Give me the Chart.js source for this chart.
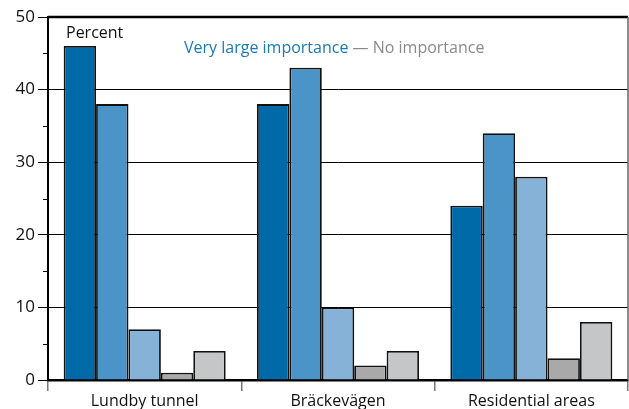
<!DOCTYPE html>
<html>
<head>
<meta charset="utf-8">
<script src="https://cdn.jsdelivr.net/npm/chart.js@4.4.1/dist/chart.umd.min.js"></script>
<style>
  html, body { margin: 0; padding: 0; background: #fff; }
  #wrap { width: 629px; height: 409px; }
</style>
</head>
<body>
<div id="wrap"><canvas id="chart" width="629" height="409"></canvas></div>
<script>
const categories = ["Lundby tunnel", "Bräckevägen", "Residential areas"];
const levelNames = ["Very large importance", "Large importance", "Some importance", "Little importance", "No importance"];
const veryLarge = [46, 38, 24];
const large = [38, 43, 34];
const some = [7, 10, 28];
const little = [1, 2, 3];
const none = [4, 4, 8];
const yTicks = [0, 10, 20, 30, 40, 50];

const colors = ["#006aa8", "#4a94c8", "#87b2d8", "#a9a9a9", "#c5c6c8"];
const FONT = "'Open Sans', 'DejaVu Sans', sans-serif";

const decor = {
  id: "decor",
  beforeDatasetsDraw(chart) {
    const { ctx, chartArea: a, scales } = chart;
    const y = scales.y;
    ctx.save();
    // minor ticks
    ctx.strokeStyle = "#000";
    ctx.lineWidth = 1;
    for (let v = 5; v < 50; v += 10) {
      const py = Math.round(y.getPixelForValue(v)) + 0.5;
      ctx.beginPath();
      ctx.moveTo(a.left - 5, py);
      ctx.lineTo(a.left, py);
      ctx.stroke();
    }
    // top border and right edge
    ctx.lineWidth = 2.5;
    ctx.beginPath();
    ctx.moveTo(a.left, y.getPixelForValue(50));
    ctx.lineTo(a.right, y.getPixelForValue(50));
    ctx.stroke();
    ctx.strokeStyle = "#666";
    ctx.lineWidth = 1.5;
    ctx.beginPath();
    ctx.moveTo(a.right, a.top);
    ctx.lineTo(a.right, a.bottom);
    ctx.stroke();
    ctx.restore();
  },
  afterDraw(chart) {
    const { ctx } = chart;
    ctx.save();
    ctx.textBaseline = "middle";
    ctx.font = "16px " + FONT;
    ctx.fillStyle = "#111";
    ctx.fillText("Percent", 66, 33);
    ctx.fillStyle = "#1a7ab8";
    ctx.fillText(levelNames[0], 184, 48);
    const w = ctx.measureText(levelNames[0] + " ").width;
    ctx.fillStyle = "#8a8a8a";
    ctx.fillText("— " + levelNames[4], 184 + w, 48);
    ctx.restore();
  }
};

const series = [veryLarge, large, some, little, none];

new Chart(document.getElementById("chart"), {
  type: "bar",
  data: {
    labels: categories,
    datasets: series.map((d, i) => ({
      label: levelNames[i],
      data: d,
      backgroundColor: colors[i],
      borderColor: "#111",
      borderWidth: 1.8,
      borderSkipped: "bottom",
      categoryPercentage: 0.838,
      barPercentage: 1.0,
    })),
  },
  options: {
    responsive: false,
    animation: false,
    layout: { padding: { top: 17, right: 1, left: 0, bottom: 0 } },
    plugins: { legend: { display: false }, tooltip: { enabled: false } },
    scales: {
      x: {
        afterFit: (s) => { s.height = 29; },
        grid: {
          offset: true,
          drawOnChartArea: false,
          tickLength: 11,
          tickColor: "#777",
          lineWidth: 1.5,
        },
        border: { color: "#000", width: 2.5 },
        ticks: { color: "#111", font: { size: 16, family: FONT }, padding: 1 },
      },
      y: {
        min: 0,
        max: 50,
        afterFit: (s) => { s.width = 48; },
        afterBuildTicks: (s) => { s.ticks = yTicks.map((v) => ({ value: v })); },
        grid: {
          color: (c) => (c.tick && c.tick.value > 0 && c.tick.value < 50 ? "#000" : "rgba(0,0,0,0)"),
          lineWidth: 1,
          tickLength: 10,
          tickColor: "#000",
        },
        border: { color: "#000", width: 2 },
        ticks: { color: "#111", font: { size: 17, family: FONT }, padding: 3 },
      },
    },
  },
  plugins: [decor],
});
</script>
</body>
</html>
